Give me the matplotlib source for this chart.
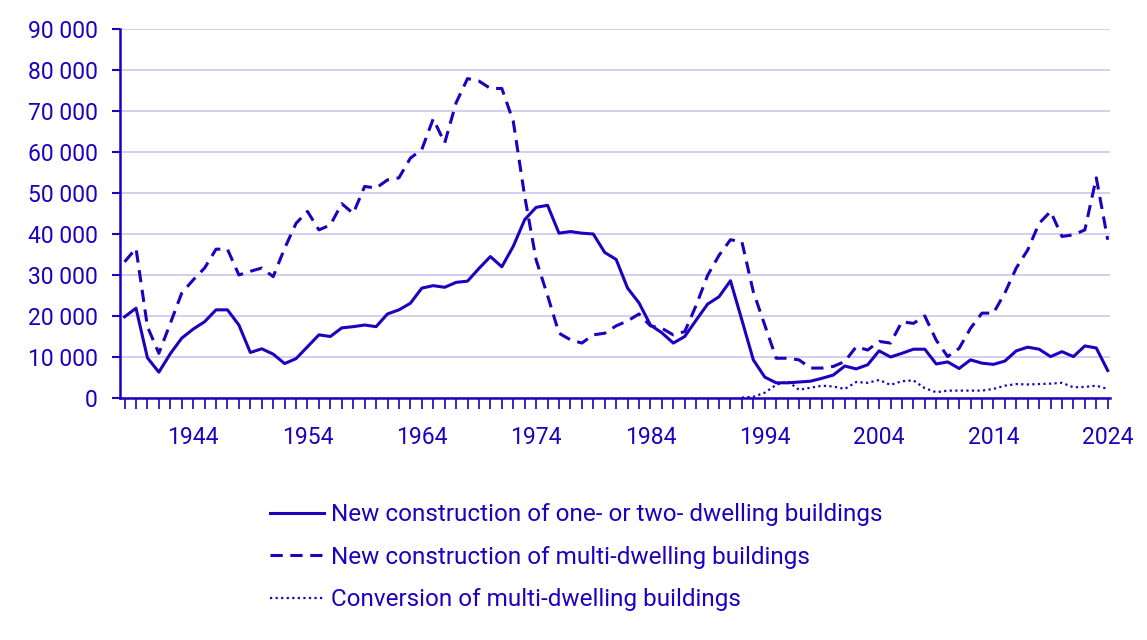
import matplotlib
matplotlib.use("Agg")
import matplotlib.pyplot as plt
import numpy as np

years = list(range(1938, 2025))
one_two = [19.8, 21.9, 9.8, 6.3, 10.8, 14.6, 16.8, 18.6, 21.5, 21.5,
           17.8, 11.1, 12.0, 10.7, 8.4, 9.6, 12.5, 15.4, 15.0, 17.1,
           17.4, 17.8, 17.4, 20.5, 21.5, 23.1, 26.8, 27.4, 27.0, 28.2,
           28.5, 31.6, 34.5, 32.0, 37.0, 43.5, 46.5, 47.0, 40.2, 40.6,
           40.2, 40.0, 35.5, 33.8, 26.8, 23.2, 17.8, 15.9, 13.4, 15.0,
           19.0, 22.9, 24.7, 28.6, 19.0, 9.3, 5.1, 3.7, 3.7, 3.9,
           4.1, 4.8, 5.6, 7.8, 7.1, 8.1, 11.5, 10.0, 10.9, 11.9,
           11.9, 8.3, 8.8, 7.2, 9.3, 8.5, 8.2, 9.0, 11.5, 12.4,
           11.9, 10.1, 11.3, 10.1, 12.7, 12.2, 6.7]
multi = [33.2, 36.5, 17.4, 10.9, 18.2, 25.6, 28.8, 31.7, 36.3, 36.3,
         30.0, 30.9, 31.7, 29.6, 36.5, 42.6, 45.5, 41.0, 42.2, 47.4,
         45.0, 51.6, 51.2, 53.2, 53.7, 58.5, 60.6, 68.1, 62.2, 72.0,
         77.9, 77.3, 75.5, 75.5, 67.5, 49.2, 33.7, 25.0, 15.8, 14.2,
         13.4, 15.4, 15.8, 17.6, 18.8, 20.5, 17.6, 17.0, 15.4, 16.2,
         22.6, 29.9, 34.8, 38.6, 38.1, 25.9, 17.8, 9.7, 9.7, 9.3,
         7.3, 7.3, 7.7, 8.9, 12.5, 11.7, 13.8, 13.4, 18.6, 18.2,
         20.0, 14.1, 10.1, 12.1, 17.0, 20.7, 20.7, 25.6, 31.7, 36.1,
         42.6, 45.5, 39.4, 39.8, 41.0, 53.7, 38.6]
conv_years = list(range(1992, 2025))
conversion = [0.1, 0.3, 1.3, 3.2, 4.1, 2.0, 2.5, 3.0, 2.8, 2.2,
              3.9, 3.7, 4.4, 3.2, 4.1, 4.3, 2.4, 1.4, 1.8, 1.8,
              1.8, 1.8, 2.2, 3.0, 3.4, 3.3, 3.4, 3.5, 3.7, 2.6,
              2.7, 3.0, 2.2]
labels = ["New construction of one- or two- dwelling buildings",
          "New construction of multi-dwelling buildings",
          "Conversion of multi-dwelling buildings"]

C = "#1e00be"
plt.rcParams["font.family"] = "Roboto"
fig = plt.figure(figsize=(11.47, 6.40), dpi=100)
ax = fig.add_axes([120/1147, 1-398/640, (1110-120)/1147, (398-29)/640])
ax.plot(years, np.array(one_two)*1000, color=C, lw=2.2, ls="-", label=labels[0])
ax.plot(years, np.array(multi)*1000, color=C, lw=2.2, ls=(0, (4, 2.5)), label=labels[1])
ax.plot(conv_years, np.array(conversion)*1000, color=C, lw=1.6, ls=(0, (1, 1.5)), label=labels[2])

ax.set_xlim(1937.6, 2024.2)
ax.set_ylim(0, 90000)
ax.set_yticks(range(0, 90001, 10000))
ax.set_yticklabels([f"{v:,}".replace(",", " ") for v in range(0, 90001, 10000)])
ax.set_xticks(range(1938, 2025), minor=True)
ax.set_xticks(range(1944, 2025, 10))
ax.grid(axis="y", color="#c8c8ee", lw=1.2)
ax.set_axisbelow(True)
for s in ["top", "right"]:
    ax.spines[s].set_visible(False)
for s in ["left", "bottom"]:
    ax.spines[s].set_color(C)
    ax.spines[s].set_linewidth(1.8)
ax.tick_params(axis="y", colors=C, labelsize=16.5, length=6, width=1.5, pad=10)
ax.tick_params(axis="x", which="both", colors=C, labelsize=16.5, length=8, width=1.2, direction="out")
ax.tick_params(axis="x", which="major", pad=12)
ax.legend(loc="upper left", bbox_to_anchor=(0.152, -0.285), frameon=False,
          fontsize=17.5, labelcolor=C, handlelength=2.2, handletextpad=0.3,
          labelspacing=0.8, borderaxespad=0, borderpad=0)
fig.savefig("out.png", dpi=100)
